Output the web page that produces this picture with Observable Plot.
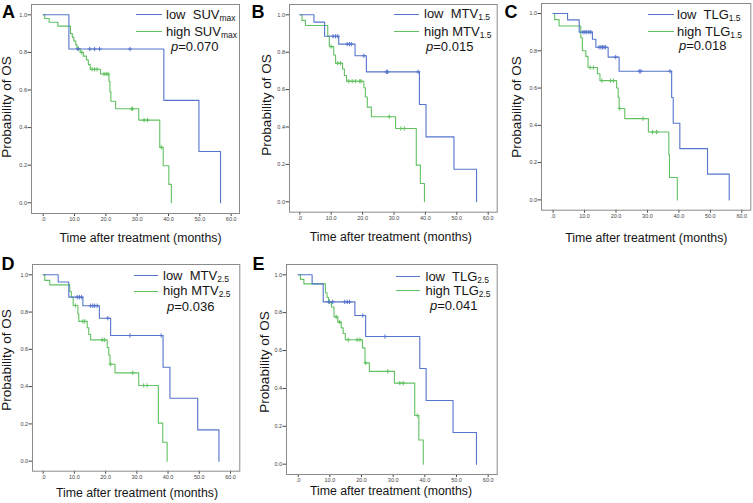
<!DOCTYPE html>
<html><head><meta charset="utf-8">
<script src="https://cdn.jsdelivr.net/npm/d3@7"></script>
<script src="https://cdn.jsdelivr.net/npm/@observablehq/plot@0.6"></script>
<style>
body{margin:0;background:#fff;}
#fig{position:relative;width:753px;height:503px;overflow:hidden;font-family:"Liberation Sans",Arial,sans-serif;}
.abs{position:absolute;white-space:pre;line-height:16px;color:#151515;}
.sub{font-size:8.5px;vertical-align:-2px;line-height:0;}
.fig-svg{position:absolute;}
</style></head>
<body><div id="fig"></div>
<script>
// ---------- data ----------
const panelLetters = ["A","B","C","D","E"];
const metricBase = ["SUV","MTV","TLG","MTV","TLG"];
const metricSub = ["max","1.5","1.5","2.5","2.5"];
const pValues = ["0.070","0.015","0.018","0.036","0.041"];
const xTitle = "Time after treatment (months)";
const yTitle = "Probability of OS";
const xTicks = [0,10,20,30,40,50,60];
const xTickLabels = [".0","10.0","20.0","30.0","40.0","50.0","60.0"];
const yTicks = [0,0.2,0.4,0.6,0.8,1.0];
const yTickLabels = ["0.0","0.2","0.4","0.6","0.8","1.0"];

// Panel A (SUVmax)
const aLowTime = [0,8.2,38.5,49.7,56.6];
const aLowSurv = [1,0.818,0.545,0.273,0];
const aLowCens = [11.1,14.9,16.4,18.0,27.7];
const aHighTime = [0,0.5,1.9,4.7,8.7,9.3,9.8,10.4,10.8,11.8,12.8,13.8,14.4,15.0,18.3,21.0,21.3,21.6,23.1,30.5,37.2,38.3,40.1,40.9];
const aHighSurv = [1,0.98,0.96,0.94,0.90,0.88,0.86,0.84,0.82,0.80,0.78,0.76,0.735,0.71,0.685,0.645,0.59,0.54,0.50,0.44,0.295,0.197,0.098,0];
const aHighCens = [11.2,12.3,15.6,16.4,17.2,19.4,20.1,20.7,28.3,28.5,32.2,33.3,37.7];
// Panel B (MTV1.5)
const bLowTime = [0,4.5,7.9,12.4,17.6,21.2,38.1,40.2,49.1,56.3];
const bLowSurv = [1,0.961,0.885,0.843,0.781,0.695,0.52,0.347,0.174,0];
const bLowCens = [10.6,11.4,12.1,15.1,15.8,16.4,20.4,27.6,28.0,37.7];
const bHighTime = [0,0.7,1.8,8.9,9.4,10.8,11.4,13.6,14.2,14.9,20.4,20.9,21.5,22.8,30.5,37.1,38.4,39.7];
const bHighSurv = [1,0.97,0.943,0.886,0.83,0.785,0.741,0.71,0.675,0.645,0.61,0.56,0.506,0.455,0.392,0.196,0.098,0];
const bHighCens = [10.0,12.1,13.0,15.6,16.7,17.7,19.1,19.5,28.5,32.2,33.3];
// Panel C (TLG1.5)
const cLowTime = [0,4.6,8.3,12.5,13.6,17.5,21.0,37.7,38.2,40.3,49.1,56.0];
const cLowSurv = [1,0.966,0.9,0.862,0.819,0.766,0.69,0.549,0.411,0.275,0.138,0];
const cLowCens = [9.5,10.1,10.7,11.4,12.0,14.6,15.2,15.7,16.2,16.7,19.9,27.4,27.9,37.2];
const cHighTime = [0,0.5,1.9,8.8,9.3,10.4,11.1,14.1,14.9,20.2,20.7,21.0,22.8,30.3,36.8,37.0,39.5];
const cHighSurv = [1,0.967,0.933,0.87,0.80,0.77,0.71,0.677,0.64,0.60,0.55,0.49,0.436,0.364,0.243,0.12,0];
const cHighCens = [11.8,12.8,15.5,18.3,19.2,21.2,28.6,31.6,32.9];
// Panel D (MTV2.5)
const dLowTime = [0,4.8,8.2,12.7,18.0,21.6,38.4,40.6,49.5,56.3];
const dLowSurv = [1,0.961,0.88,0.834,0.767,0.674,0.504,0.338,0.168,0];
const dLowCens = [10.9,11.6,12.3,15.2,15.9,16.5,17.3,20.7,27.8,37.8];
const dHighTime = [0,0.5,2.1,8.5,9.0,9.6,11.1,11.4,14.1,14.6,15.2,20.5,21.0,21.4,23.0,30.6,36.9,38.3,39.7];
const dHighSurv = [1,0.97,0.946,0.91,0.88,0.835,0.79,0.75,0.716,0.68,0.651,0.61,0.57,0.52,0.474,0.406,0.204,0.102,0];
const dHighCens = [10.3,12.7,13.3,18.9,19.6,21.6,28.7,32.2,33.3];
// Panel E (TLG2.5)
const eLowTime = [0,4.4,7.9,17.9,21.3,38.4,40.4,48.9,56.3];
const eLowSurv = [1,0.952,0.857,0.785,0.674,0.505,0.336,0.167,0];
const eLowCens = [9.7,10.9,14.7,15.5,16.2,20.4,27.4];
const eHighTime = [0,0.7,1.8,8.6,9.1,9.6,10.5,11.3,12.5,13.6,14.2,14.9,20.3,21.1,22.5,30.4,36.8,38.1,39.5];
const eHighSurv = [1,0.976,0.952,0.905,0.88,0.857,0.83,0.778,0.75,0.72,0.69,0.657,0.614,0.535,0.49,0.428,0.257,0.128,0];
const eHighCens = [9.9,12.0,13.1,15.8,18.6,19.5,21.3,28.3,32.1,33.2,37.6];

const lowSeries = [[aLowTime,aLowSurv,aLowCens],[bLowTime,bLowSurv,bLowCens],[cLowTime,cLowSurv,cLowCens],[dLowTime,dLowSurv,dLowCens],[eLowTime,eLowSurv,eLowCens]];
const highSeries = [[aHighTime,aHighSurv,aHighCens],[bHighTime,bHighSurv,bHighCens],[cHighTime,cHighSurv,cHighCens],[dHighTime,dHighSurv,dHighCens],[eHighTime,eHighSurv,eHighCens]];

// ---------- layout (pixel positions of each panel) ----------
const layout = [
 {fl:31, fr:239, ft:4, fb:213, x0:42.7, x60:230.7, y1:14.3, y0:202.3, letter:[2,2], lg:{lx:136,lw:26,tx:166,r1:15,r2:31.5,px:171,py:47}, xl:[140.5,238], yl:[6.5,106.7]},
 {fl:289, fr:496.7, ft:4, fb:211.7, x0:299.3, x60:487.7, y1:14.3, y0:201.3, letter:[251.5,2], lg:{lx:394,lw:25,tx:424,r1:14.3,r2:31.7,px:426,py:46.7}, xl:[390.8,236.7], yl:[266.7,105]},
 {fl:540.7, fr:750, ft:3.3, fb:210, x0:552.3, x60:741, y1:13.3, y0:199.7, letter:[504.5,2], lg:{lx:648,lw:26,tx:677,r1:15,r2:31.7,px:679,py:46}, xl:[646.3,238.3], yl:[516.7,106.7]},
 {fl:32, fr:239.3, ft:264, fb:470.7, x0:42.7, x60:230, y1:274.3, y0:460.7, letter:[1.5,254], lg:{lx:134,lw:24,tx:163,r1:276,r2:291.3,px:167,py:306.7}, xl:[137,493], yl:[6.7,360]},
 {fl:286, fr:496.7, ft:264, fb:474, x0:297.7, x60:487.7, y1:274.3, y0:463.7, letter:[252.5,254], lg:{lx:396,lw:24,tx:425.5,r1:276.5,r2:291,px:430,py:306}, xl:[391,491], yl:[265,361.7]},
];
const BLUE = "#5574cc", GREEN = "#62c262", FRAME = "#8a8a8a";

const fig = document.getElementById("fig");
function steps(T,S){ return T.map((t,i)=>({t, s:S[i]})); }
function survAt(T,S,c){ let v=S[0]; for(let i=0;i<T.length;i++){ if(T[i]<=c) v=S[i]; } return v; }
function cens(T,S,C){ return C.map(c=>({t:c, s:survAt(T,S,c)})); }
function addDiv(html, x, y, style){
  const d=document.createElement("div"); d.className="abs"; d.innerHTML=html;
  d.style.left=x+"px"; d.style.top=y+"px"; if(style) Object.assign(d.style, style); fig.appendChild(d); return d;
}

layout.forEach((L,k)=>{
  const ml=24, mr=2, mt=2, mb=14;
  const width = L.fr-L.fl+ml+mr, height = L.fb-L.ft+mt+mb;
  const [lt,ls,lc] = lowSeries[k], [ht,hs,hc] = highSeries[k];
  const svg = Plot.plot({
    width, height, marginLeft:ml, marginRight:mr, marginTop:mt, marginBottom:mb,
    style:{fontSize:"5.5px", color:"#444", fontFamily:"Liberation Sans, Arial, sans-serif", background:"transparent", overflow:"visible"},
    x:{domain:[0,60], insetLeft:L.x0-L.fl, insetRight:L.fr-L.x60, ticks:xTicks, tickFormat:d=>xTickLabels[xTicks.indexOf(d)], tickSize:3, tickPadding:1, label:null},
    y:{domain:[0,1], insetTop:L.y1-L.ft, insetBottom:L.fb-L.y0, ticks:yTicks, tickFormat:d=>yTickLabels[yTicks.indexOf(d)], tickSize:3.5, tickPadding:1, label:null},
    marks:[
      Plot.frame({stroke:FRAME}),
      Plot.line(steps(ht,hs), {x:"t", y:"s", curve:"step-after", stroke:GREEN, strokeWidth:1.1}),
      Plot.dot(cens(ht,hs,hc), {x:"t", y:"s", symbol:"plus", r:1.5, stroke:GREEN, strokeWidth:1}),
      Plot.line(steps(lt,ls), {x:"t", y:"s", curve:"step-after", stroke:BLUE, strokeWidth:1.1}),
      Plot.dot(cens(lt,ls,lc), {x:"t", y:"s", symbol:"plus", r:1.5, stroke:BLUE, strokeWidth:1})
    ]
  });
  svg.classList.add("fig-svg");
  svg.style.left=(L.fl-ml)+"px"; svg.style.top=(L.ft-mt)+"px";
  fig.appendChild(svg);

  // panel letter
  addDiv(panelLetters[k], L.letter[0], L.letter[1], {fontSize:"18px", fontWeight:"bold", lineHeight:"20px", color:"#000"});
  // axis titles
  addDiv(xTitle, L.xl[0], L.xl[1]-4.85, {fontSize:"12.3px", lineHeight:"10px", transform:"translateX(-50%)"});
  addDiv(yTitle, L.yl[0], L.yl[1], {fontSize:"13.5px", lineHeight:"12px", transform:"translate(-50%,-50%) rotate(-90deg)"});
  // legend
  const g=L.lg;
  [[g.r1,BLUE,"low  "],[g.r2,GREEN,"high "]].forEach(([ry,col,word])=>{
    const ln=document.createElement("div");
    Object.assign(ln.style,{position:"absolute",left:g.lx+"px",top:(ry-0.75)+"px",width:g.lw+"px",height:"0",borderTop:"1.5px solid "+col});
    fig.appendChild(ln);
    addDiv(word+metricBase[k]+'<span class="sub">'+metricSub[k]+'</span>', g.tx, ry-8, {fontSize:"13px"});
  });
  addDiv('<i>p</i>='+pValues[k], g.px, g.py-8, {fontSize:"13px"});
});
</script>
</body></html>
